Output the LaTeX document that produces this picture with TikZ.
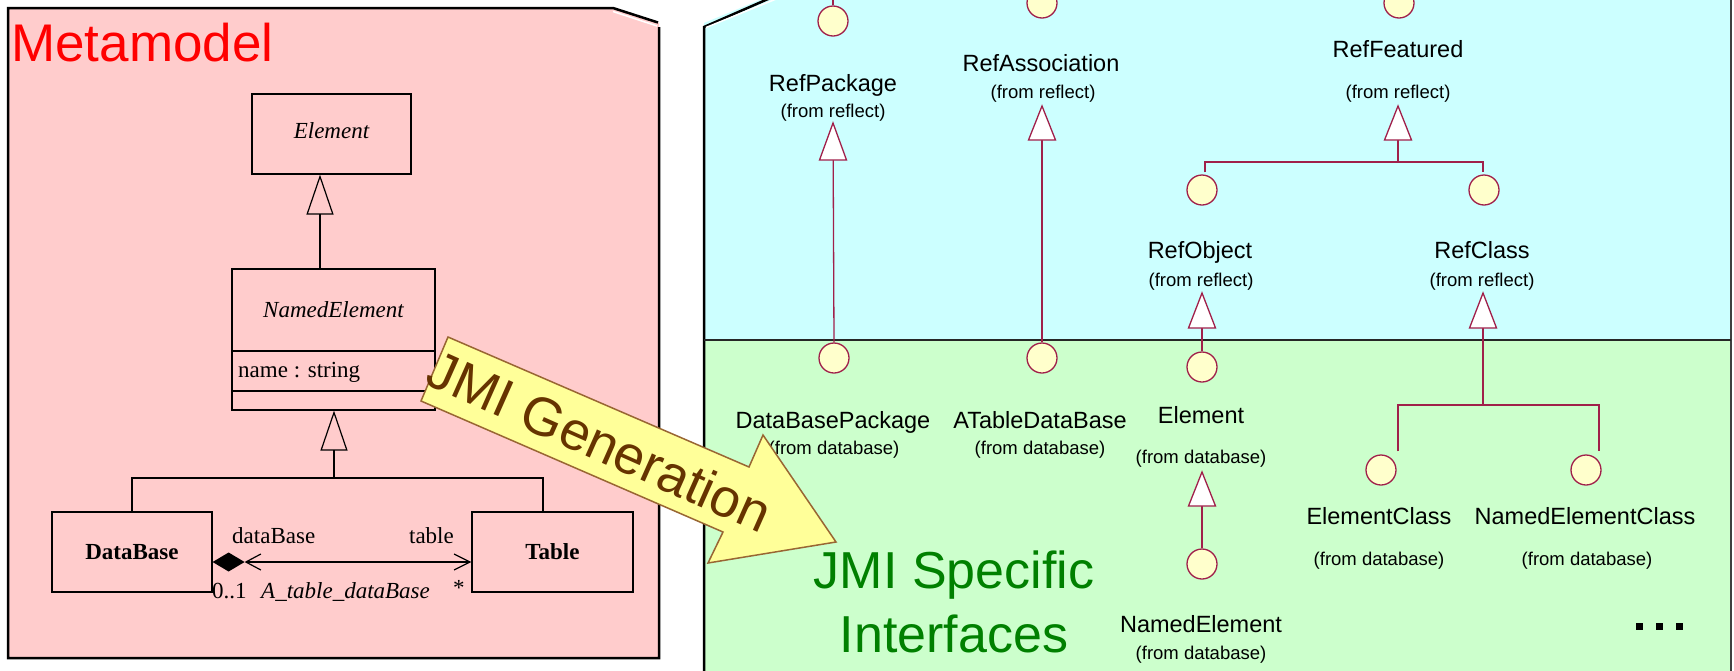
\documentclass[tikz,border=0pt]{standalone}
\usepackage{fontspec}
\setmainfont{Liberation Serif}
\newfontfamily\arialf{Liberation Sans}
\usetikzlibrary{arrows.meta}
\definecolor{pinkbg}{HTML}{FFCCCC}
\definecolor{cyanbg}{HTML}{CCFFFF}
\definecolor{greenbg}{HTML}{CCFFCC}
\definecolor{ifill}{HTML}{FFFFCC}
\definecolor{crim}{HTML}{A0204A}
\definecolor{arrfill}{HTML}{FFFF99}
\definecolor{arrdraw}{HTML}{996633}
\definecolor{arrtext}{HTML}{663300}
\definecolor{jmigreen}{HTML}{008000}
\begin{document}
\begin{tikzpicture}[x=1pt,y=-1pt,
  umlbox/.style={draw, line width=1.2pt, inner sep=0pt, font=\fontsize{23}{27}\selectfont},
  umltext/.style={inner sep=0pt, font=\fontsize{23}{27}\selectfont},
  uml/.style={line width=1.2pt},
  gen/.style={uml, -{Triangle[open, length=40pt, width=27pt]}},
  lbl/.style={anchor=base, inner sep=0pt, font=\arialf\fontsize{23.5}{28}\selectfont},
  fromlbl/.style={anchor=base, inner sep=0pt, font=\arialf\fontsize{18.5}{22}\selectfont},
  iface/.style={circle, draw=crim, fill=ifill, line width=1.3pt, minimum size=30pt, inner sep=0pt},
  rl/.style={draw=crim, line width=1.3pt},
  rtri/.style={draw=crim, line width=1.3pt, fill=white, line join=miter},
  dot/.style={fill=black, minimum size=7pt, inner sep=0pt},
  panel/.style={line width=2.5pt}
]
\useasboundingbox (0,0) rectangle (1734,670);
\clip (0,0) rectangle (1734,670);
\fill[white] (0,0) rectangle (1734,670);

% ---------------- left panel ----------------
\fill[pinkbg] (8,8) -- (613,8) -- (659,23) -- (659,658) -- (8,658) -- cycle;
\draw[panel] (659,27) -- (659,658) -- (8,658) -- (8,8) -- (613,8) -- (658,22.5);
\draw[white, line width=1.5pt] (613,11.5) -- (657,26);
\node[anchor=base west, inner sep=0pt, text=red, font=\arialf\fontsize{53}{60}\selectfont] (meta) at (11,61) {Metamodel};

\node[umlbox, minimum width=159pt, minimum height=80pt] (element) at (331.5,134) {};
\node[umltext] (elementt) at (331.5,131) {\itshape Element};
\node[umlbox, minimum width=203pt, minimum height=141pt] (ne) at (333.5,339.5) {};
\node[umltext] (net) at (333.5,310) {\itshape NamedElement};
\draw[line width=2.6pt] ([yshift=-11.5pt]ne.west) -- ([yshift=-11.5pt]ne.east);
\draw[uml] ([yshift=-51.5pt]ne.west) -- ([yshift=-51.5pt]ne.east);
\node[umltext, anchor=base west] (attr) at (238,377) {name : string};

\node[umlbox, minimum width=160pt, minimum height=80pt] (db) at (132,552) {\bfseries DataBase};
\node[umlbox, minimum width=161pt, minimum height=80pt] (tab) at (552.5,552) {\bfseries Table};

\draw[gen] ([xshift=-13.5pt]ne.north) -- ([xshift=-11.5pt]element.south);
\coordinate (j1) at (334,478);
\draw[gen] (j1) -- ([xshift=0.5pt]ne.south);
\draw[uml] (db.north) |- (j1) -| ([xshift=-9.5pt]tab.north);

\fill ([yshift=-10pt]db.east) -- ++(16,-9.5) -- ++(16,9.5) -- ++(-16,9.5) -- cycle;
\draw[uml, {Straight Barb[length=15pt,width=16pt]}-{Straight Barb[length=16pt,width=16pt]}]
  ([xshift=32pt,yshift=-10pt]db.east) -- ([yshift=-10pt]tab.west);
\node[umltext, anchor=base west] (rdb) at (232,543) {dataBase};
\node[umltext, anchor=base east] (rtab) at (454,543) {table};
\node[umltext, anchor=base west] (m01) at (212,598) {0..1};
\node[umltext, anchor=base west] (assoc) at (261,598) {\itshape A\_table\_dataBase};
\node[umltext, anchor=base west] (mstar) at (453,595) {*};

% ---------------- right panel ----------------
\fill[cyanbg] (704,23) -- (784,-10) -- (1731,-10) -- (1731,340) -- (704,340) -- cycle;
\fill[greenbg] (704,340) rectangle (1731,680);
\draw[panel] (704,680) -- (704,27) -- (784,-8);
\draw[white, line width=1.5pt] (706,27.5) -- (786,-5);
\draw[black!75, line width=1.5pt] (1731,-10) -- (1731,680);
\draw[black!85, line width=2pt] (704,340) -- (1731,340);

% circles
\node[iface] (cRP) at (833,21) {};
\node[iface] (cRA) at (1042,3) {};
\node[iface] (cRF) at (1399,3) {};
\node[iface] (cRO) at (1202,190) {};
\node[iface] (cRC) at (1484,190) {};
\node[iface] (cDBP) at (834,358) {};
\node[iface] (cATDB) at (1042,358) {};
\node[iface] (cEl) at (1202,367) {};
\node[iface] (cNE) at (1202,564) {};
\node[iface] (cEC) at (1381,470) {};
\node[iface] (cNEC) at (1586,470) {};
\coordinate (topRP) at (833,-5);
\draw[rl] (cRP.north) -- (topRP);

% labels (reflect)
\node[lbl] (lRP) at (833,91) {RefPackage};
\node[fromlbl] (fRP) at (833,117) {(from reflect)};
\node[lbl] (lRA) at (1041,71) {RefAssociation};
\node[fromlbl] (fRA) at (1043,98) {(from reflect)};
\node[lbl] (lRF) at (1398,57) {RefFeatured};
\node[fromlbl] (fRF) at (1398,98) {(from reflect)};
\node[lbl] (lRO) at (1200,258) {RefObject};
\node[fromlbl] (fRO) at (1201,286) {(from reflect)};
\node[lbl] (lRC) at (1482,258) {RefClass};
\node[fromlbl] (fRC) at (1482,286) {(from reflect)};

% labels (database)
\node[lbl] (lDBP) at (833,428) {DataBasePackage};
\node[fromlbl] (fDBP) at (834,454) {(from database)};
\node[lbl] (lATDB) at (1040,428) {ATableDataBase};
\node[fromlbl] (fATDB) at (1040,454) {(from database)};
\node[lbl] (lEl) at (1201,423) {Element};
\node[fromlbl] (fEl) at (1201,463) {(from database)};
\node[lbl] (lNE) at (1201,632) {NamedElement};
\node[fromlbl] (fNE) at (1201,659) {(from database)};
\node[lbl] (lEC) at (1379,524) {ElementClass};
\node[fromlbl] (fEC) at (1379,565) {(from database)};
\node[lbl] (lNEC) at (1585,524) {NamedElementClass};
\node[fromlbl] (fNEC) at (1587,565) {(from database)};

% generalizations (right)
\coordinate (tRP) at (833,123);
\coordinate (tRA) at (1042,106);
\coordinate (tRF) at (1398,106);
\coordinate (tRO) at (1202,293);
\coordinate (tRC) at (1483,293);
\coordinate (tEl) at (1202,472);
\coordinate (jF) at (1398,162);
\coordinate (jC) at (1483,405);
\draw[rl] (cDBP.north) -- (tRP);
\draw[rl] (cATDB.north) -- (tRA);
\draw[rl] (jF) -- (tRF);
\draw[rl] ([shift={(3pt,2pt)}]cRO.north) |- (jF) -| ([shift={(-1pt,2pt)}]cRC.north);
\draw[rl] (cEl.north) -- (tRO);
\draw[rl] (jC) -- (tRC);
\draw[rl] ([shift={(17pt,3pt)}]cEC.north) |- (jC) -| ([shift={(13pt,3pt)}]cNEC.north);
\draw[rl] (cNE.north) -- (tEl);
\draw[rtri] (tRP) -- ++(-13.5,37) -- ++(27,0) -- cycle;
\draw[rtri] (tRA) -- ++(-13.5,34) -- ++(27,0) -- cycle;
\draw[rtri] (tRF) -- ++(-13.5,34) -- ++(27,0) -- cycle;
\draw[rtri] (tRO) -- ++(-13.5,35) -- ++(27,0) -- cycle;
\draw[rtri] (tRC) -- ++(-13.5,35) -- ++(27,0) -- cycle;
\draw[rtri] (tEl) -- ++(-13.5,34) -- ++(27,0) -- cycle;

% JMI Specific Interfaces
\node[anchor=base, inner sep=0pt, text=jmigreen, font=\arialf\fontsize{52}{60}\selectfont] (jmis1) at (954,588) {JMI Specific};
\node[anchor=base, inner sep=0pt, text=jmigreen, font=\arialf\fontsize{52}{60}\selectfont] (jmis2) at (954,652) {Interfaces};

% dots
\node[dot] (d1) at (1639,626) {};
\node[dot] (d2) at (1659,626) {};
\node[dot] (d3) at (1679,626) {};

% ---------------- JMI Generation arrow ----------------
\draw[fill=arrfill, draw=arrdraw, line width=1.5pt, line join=miter]
  (448,337) -- (749,467) -- (763,435) -- (836,542) -- (708,563) -- (723,532) -- (421,401) -- cycle;
\node[rotate=-24, inner sep=0pt, text=arrtext, font=\arialf\fontsize{54}{60}\selectfont] (jmig) at (600,441) {JMI Generation};
\end{tikzpicture}
\end{document}
